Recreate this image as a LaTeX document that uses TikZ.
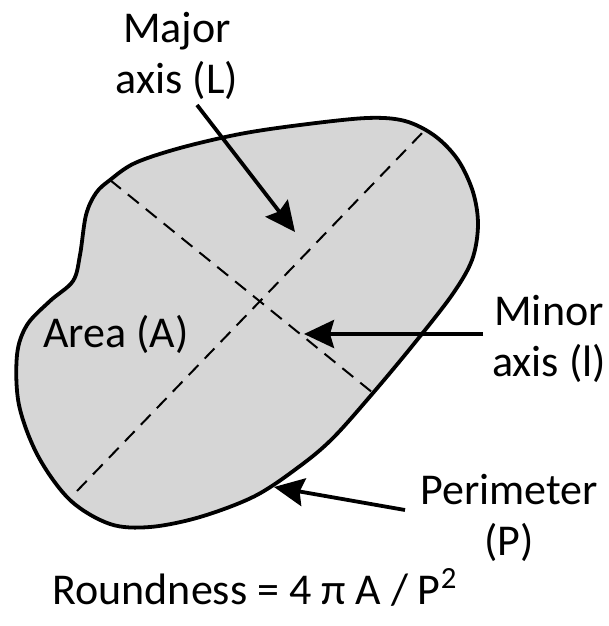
\documentclass[tikz,border=0pt]{standalone}
\usepackage{fontspec}
\setmainfont{Carlito}
\usetikzlibrary{arrows.meta}
\definecolor{ink}{HTML}{000000}
\definecolor{blobfill}{HTML}{D6D6D6}

\begin{document}
\begin{tikzpicture}[x=0.5pt, y=-0.5pt, line join=round,
    lbl/.style={font=\fontsize{22}{25.5}\selectfont, inner sep=0pt, align=center},
    ar/.style={-{Stealth[length=15pt, width=14pt, inset=2pt]}, line width=1.9pt, ink},
    axisline/.style={dash pattern=on 7pt off 4.5pt, line width=1pt, ink}]
  \useasboundingbox (0,0) rectangle (609,626);
  % particle outline
  \draw[line width=1.9pt, ink, fill=blobfill] plot[smooth cycle, tension=0.55] coordinates {
    (110,180) (135,163) (180,148) (240,134) (300,125) (367,118) (405,121)
    (435,136) (458,160) (473,192) (478,225) (472,260) (452,295) (413,345)
    (373,393) (333,438) (300,466) (255,496) (200,517) (150,527) (110,524)
    (70,500) (38,456) (19,405) (17,355) (27,325) (50,301) (73,281) (80,255)
    (86,215) (96,193)};
  % axes
  \coordinate (majA) at (77,491);
  \coordinate (majB) at (425,130);
  \coordinate (minA) at (110,180);
  \coordinate (minB) at (373,393);
  \draw[axisline] (majA) -- (majB);
  \draw[axisline] (minA) -- (minB);
  % labels (base = last line)
  \node[lbl, anchor=base] (major) at (177,94) {Major\\axis (L)};
  \node[lbl, anchor=base] (minor) at (549,376) {Minor\\axis (l)};
  \node[lbl, anchor=base west] (area) at (43,347) {Area (A)};
  \node[lbl, anchor=base] (perim) at (509,555) {Perimeter\\(P)};
  \node[lbl, anchor=base west] (round) at (52,604) {Roundness = 4 π A / P\textsuperscript{2}};
  % pointers
  \coordinate (majtail) at (197,105);
  \coordinate (majtip) at (295,232);
  \coordinate (mintail) at (483,334);
  \coordinate (mintip) at (304,334);
  \coordinate (pertail) at (405,510);
  \coordinate (pertip) at (274,487);
  \draw[ar] (majtail) -- (majtip);
  \draw[ar] (mintail) -- (mintip);
  \draw[ar] (pertail) -- (pertip);
\end{tikzpicture}
\end{document}
